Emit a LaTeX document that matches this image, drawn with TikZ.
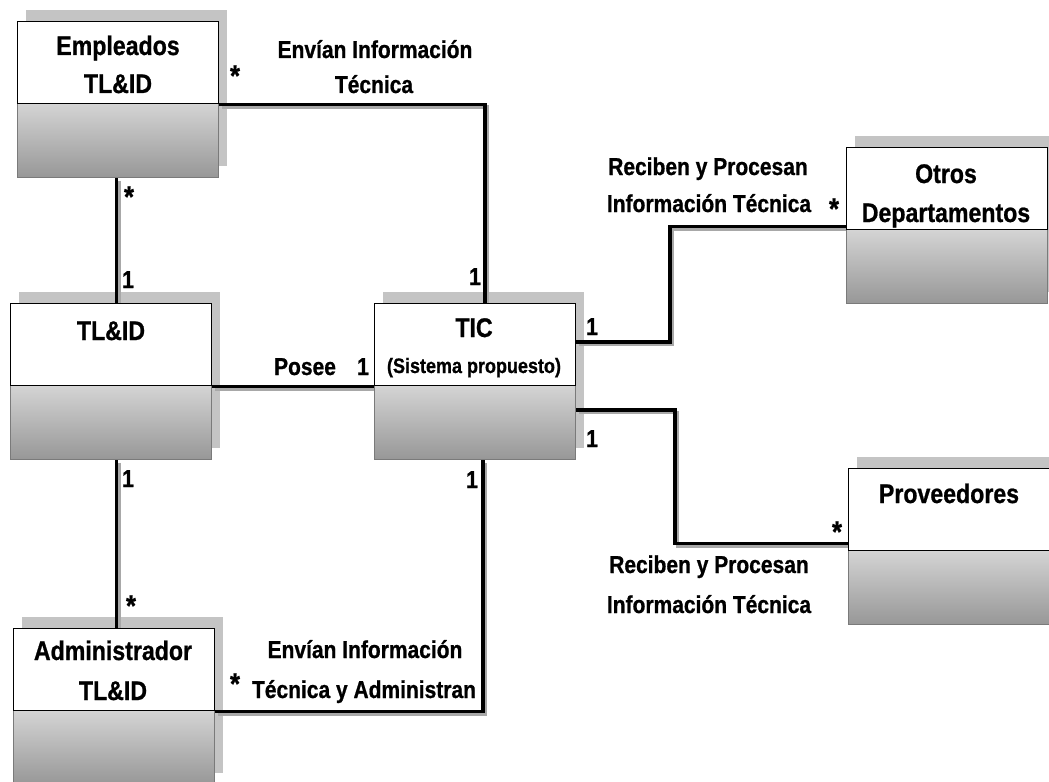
\documentclass[tikz,border=0pt]{standalone}
\usepackage{fontspec}
\setmainfont[FakeStretch=0.86, BoldFeatures={FakeBold=0.8}]{Liberation Sans}
\usetikzlibrary{calc}
\definecolor{shadowgray}{HTML}{C4C4C4}
\definecolor{gradtop}{HTML}{D4D4D4}
\definecolor{gradbot}{HTML}{979797}
\definecolor{bordergray}{HTML}{7A7A7A}
\definecolor{lineshadow}{HTML}{A8A8A8}
\pgfdeclarelayer{bg}
\pgfsetlayers{bg,main}
\tikzset{
  classtop/.style={draw=black, line width=1.4bp, fill=white, minimum width=201bp, minimum height=82bp, inner sep=0pt, anchor=north west},
  classbot/.style={draw=bordergray, line width=1.4bp, top color=gradtop, bottom color=gradbot, minimum width=201bp, minimum height=74bp, inner sep=0pt, anchor=north west},
  boxshadow/.style={fill=shadowgray},
  conn/.style={draw=black, line width=3.2bp, miter limit=10,
    preaction={draw=lineshadow, line width=3.2bp, transform canvas={xshift=2.5bp, yshift=-2.5bp}}},
  title/.style={font=\fontsize{27}{27}\selectfont\bfseries, anchor=base, inner sep=0pt},
  subtitle/.style={font=\fontsize{21}{21}\selectfont\bfseries, anchor=base, inner sep=0pt},
  lbl/.style={font=\fontsize{24.5}{24.5}\selectfont\bfseries, anchor=base, inner sep=0pt},
  star/.style={font=\fontsize{30}{30}\selectfont\bfseries, anchor=base, inner sep=0pt, yshift=6bp},
}
\newcommand\umlclassbox[3]{%
  \begin{pgfonlayer}{bg}
    \fill[boxshadow] (#2+9,#3-11) rectangle (#2+210,#3+145);
  \end{pgfonlayer}
  \node[classbot] (#1bot) at (#2,#3+82) {};
  \node[classtop] (#1top) at (#2,#3) {};
}
\begin{document}
\begin{tikzpicture}[x=1bp,y=-1bp]
\useasboundingbox (0,0) rectangle (1049,782);
\clip (0,0) rectangle (1049,782);
\begin{pgfonlayer}{bg}
\fill[white] (0,0) rectangle (1049,782);
\end{pgfonlayer}

% classes
\umlclassbox{emp}{17}{21}
\umlclassbox{tlid}{10}{303}
\umlclassbox{tic}{374}{303}
\umlclassbox{adm}{13}{628}
\umlclassbox{otros}{846}{147}
\umlclassbox{prov}{848}{468}

% class titles
\node[title] (empT1) at (118,55) {Empleados};
\node[title] (empT2) at (118,93) {TL\&ID};
\node[title] (tlidT) at (111,340) {TL\&ID};
\node[title] (ticT1) at (474,337) {TIC};
\node[subtitle] (ticT2) at (474,373) {(Sistema propuesto)};
\node[title] (admT1) at (113,660) {Administrador};
\node[title] (admT2) at (113,700) {TL\&ID};
\node[title] (otrT1) at (946,183) {Otros};
\node[title] (otrT2) at (946,222) {Departamentos};
\node[title] (provT) at (949,503) {Proveedores};

% connectors
\coordinate (k6) at (670,0);
\coordinate (k7) at (675,0);
\coordinate (otrosL) at ([yshift=4bp]otrostop.south west);
\coordinate (provL) at ([yshift=8bp]provtop.south west);
\begin{pgfonlayer}{bg}
\draw[conn] (emptop.south east) -| ([xshift=111bp]tictop.north west);
\draw[conn] ([xshift=-1.5bp]empbot.south) -- ([xshift=-1.5bp]empbot.south |- tlidtop.north);
\draw[conn] (tlidtop.south east) -- (tictop.south west);
\draw[conn] ([xshift=5.5bp]tlidbot.south) -- ([xshift=5.5bp]tlidbot.south |- admtop.north);
\draw[conn] (admtop.south east) -| ([xshift=109bp]ticbot.south west);
\draw[conn] ([yshift=-39bp]tictop.north east) -| (k6 |- otrosL) -- (otrosL);
\draw[conn] ([yshift=-25bp]ticbot.north east) -| (k7 |- provL) -- (provL);
\end{pgfonlayer}

% labels and multiplicities
\node[lbl] (l1a) at (375,58) {Envían Información};
\node[lbl] (l1b) at (374,93) {Técnica};
\node[star] (m1a) at (235,92) {*};
\node[lbl] (m1b) at (475,285) {1};
\node[star] (m2a) at (129,213) {*};
\node[lbl] (m2b) at (128,288) {1};
\node[lbl] (l3) at (305,375) {Posee};
\node[lbl] (m3) at (363,375) {1};
\node[lbl] (m4a) at (128,487) {1};
\node[star] (m4b) at (131,622) {*};
\node[lbl] (m5a) at (472,488) {1};
\node[star] (m5b) at (235,700) {*};
\node[lbl] (l5a) at (365,658) {Envían Información};
\node[lbl] (l5b) at (364,698) {Técnica y Administran};
\node[lbl] (m6a) at (592,335) {1};
\node[star] (m6b) at (834,225) {*};
\node[lbl] (l6a) at (708,175) {Reciben y Procesan};
\node[lbl] (l6b) at (709,212) {Información Técnica};
\node[lbl] (m7a) at (592,447) {1};
\node[star] (m7b) at (837,548) {*};
\node[lbl] (l7a) at (709,573) {Reciben y Procesan};
\node[lbl] (l7b) at (709,613) {Información Técnica};
\end{tikzpicture}
\end{document}
